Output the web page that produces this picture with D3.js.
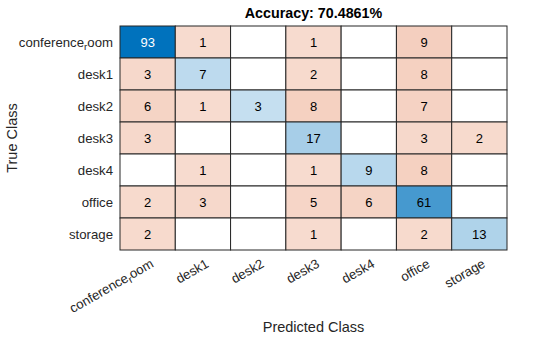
<!DOCTYPE html>
<html>
<head>
<meta charset="utf-8">
<script src="https://cdn.jsdelivr.net/npm/d3@7"></script>
<style>
  html, body { margin: 0; padding: 0; background: #fff; }
  svg text { font-family: "Liberation Sans", Arial, Helvetica, sans-serif; }
</style>
</head>
<body>
<svg id="chart" width="560" height="337"></svg>
<script>
// Class names (true classes down the rows, predicted classes across the columns)
const classes = ["conference_room", "desk1", "desk2", "desk3", "desk4", "office", "storage"];

// Confusion counts, one array per true class (0 = empty cell)
const rowConference = [93, 1, 0, 1, 0, 9, 0];
const rowDesk1      = [3, 7, 0, 2, 0, 8, 0];
const rowDesk2      = [6, 1, 3, 8, 0, 7, 0];
const rowDesk3      = [3, 0, 0, 17, 0, 3, 2];
const rowDesk4      = [0, 1, 0, 1, 9, 8, 0];
const rowOffice     = [2, 3, 0, 5, 6, 61, 0];
const rowStorage    = [2, 0, 0, 1, 0, 2, 13];
const counts = [rowConference, rowDesk1, rowDesk2, rowDesk3, rowDesk4, rowOffice, rowStorage];

const titleText = "Accuracy: 70.4861%";
const xLabel = "Predicted Class";
const yLabel = "True Class";

const svg = d3.select("#chart");
const plotLeft = 120, plotRight = 507, plotTop = 26, plotBottom = 250;

const x = d3.scaleBand().domain(classes).range([plotLeft, plotRight]);
const y = d3.scaleBand().domain(classes).range([plotTop, plotBottom]);

const maxCount = d3.max(counts.flat());
const diagBase = d3.rgb(0, 114, 189);
const offBase = d3.rgb(217, 83, 25);
function cellColor(v, isDiag) {
  if (v === 0) return "#ffffff";
  const t = 0.2 + 0.8 * v / maxCount;
  return d3.interpolateRgb("#ffffff", isDiag ? diagBase : offBase)(t);
}

const cells = [];
counts.forEach((row, i) => row.forEach((v, j) => cells.push({ r: classes[i], c: classes[j], v, diag: i === j })));

const g = svg.append("g");
g.selectAll("rect.cell").data(cells).join("rect")
  .attr("class", "cell")
  .attr("x", d => x(d.c))
  .attr("y", d => y(d.r))
  .attr("width", x.bandwidth())
  .attr("height", y.bandwidth())
  .attr("fill", d => cellColor(d.v, d.diag))
  .attr("stroke", "#262626")
  .attr("stroke-width", 1);

g.selectAll("text.val").data(cells.filter(d => d.v > 0)).join("text")
  .attr("class", "val")
  .attr("x", d => x(d.c) + x.bandwidth() / 2)
  .attr("y", d => y(d.r) + y.bandwidth() / 2)
  .attr("dy", "0.36em")
  .attr("text-anchor", "middle")
  .attr("font-size", 13)
  .attr("fill", d => (d.diag && d.v / maxCount > 0.8) ? "#ffffff" : "#000000")
  .text(d => d.v);

// Tick label with TeX-style subscript for underscores
function writeLabel(sel, name) {
  const parts = name.split("_");
  sel.append("tspan").text(parts[0]);
  if (parts.length > 1) {
    const rest = parts[1];
    sel.append("tspan").attr("baseline-shift", "-30%").attr("font-size", "75%").text(rest[0]);
    sel.append("tspan").text(rest.slice(1));
  }
}

// Y axis tick labels
classes.forEach(name => {
  const t = svg.append("text")
    .attr("x", plotLeft - 7)
    .attr("y", y(name) + y.bandwidth() / 2)
    .attr("dy", "0.36em")
    .attr("text-anchor", "end")
    .attr("font-size", 13.2)
    .attr("fill", "#262626");
  writeLabel(t, name);
});

// X axis tick labels, rotated
classes.forEach(name => {
  const cx = x(name) + x.bandwidth() / 2 + 2;
  const t = svg.append("text")
    .attr("transform", `translate(${cx},${plotBottom + 8}) rotate(-30)`)
    .attr("dy", "0.72em")
    .attr("text-anchor", "end")
    .attr("font-size", 13.2)
    .attr("fill", "#262626");
  writeLabel(t, name);
});

// Title and axis labels
svg.append("text")
  .attr("x", (plotLeft + plotRight) / 2)
  .attr("y", 18)
  .attr("text-anchor", "middle")
  .attr("font-size", 14.3)
  .attr("font-weight", "bold")
  .attr("fill", "#000")
  .text(titleText);

svg.append("text")
  .attr("x", (plotLeft + plotRight) / 2)
  .attr("y", 332)
  .attr("text-anchor", "middle")
  .attr("font-size", 14.5)
  .attr("fill", "#262626")
  .text(xLabel);

svg.append("text")
  .attr("transform", `translate(12,${(plotTop + plotBottom) / 2}) rotate(-90)`)
  .attr("dy", "0.36em")
  .attr("text-anchor", "middle")
  .attr("font-size", 14.5)
  .attr("fill", "#262626")
  .text(yLabel);
</script>
</body>
</html>
